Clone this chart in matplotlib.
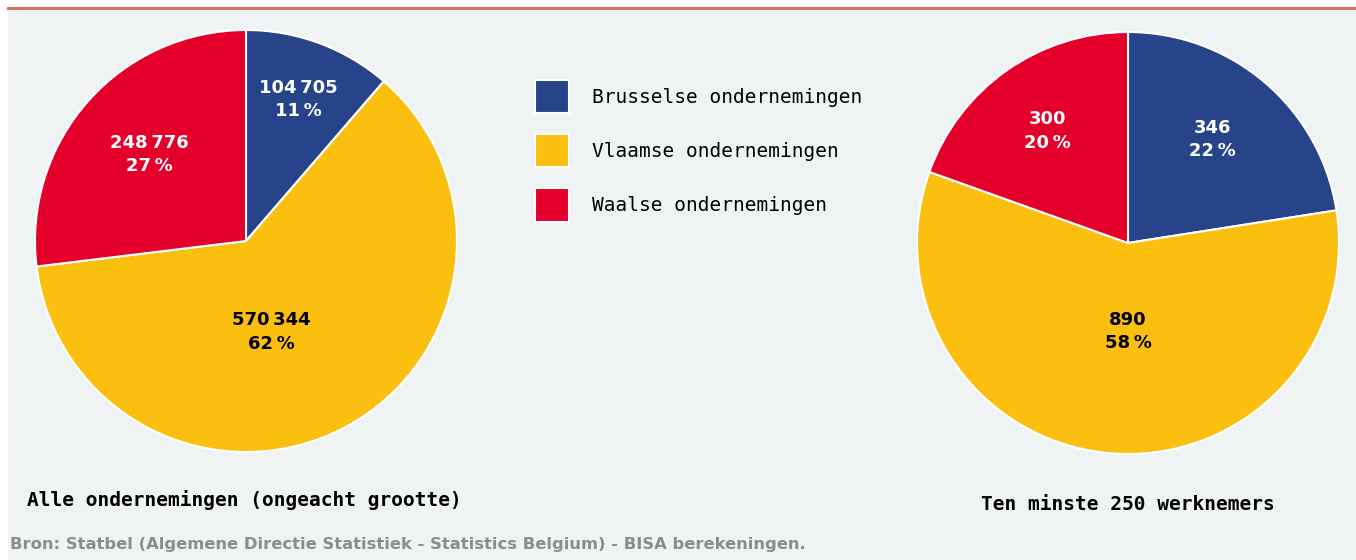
import matplotlib.pyplot as plt
from matplotlib.patches import Patch, Rectangle

regions = ['Brusselse ondernemingen', 'Vlaamse ondernemingen', 'Waalse ondernemingen']
colors = ['#27438a', '#fbbf10', '#e4002b']

all_counts = [104705, 570344, 248776]
all_labels = ['104\u2009705', '570\u2009344', '248\u2009776']
all_pcts = [11, 62, 27]
big_counts = [346, 890, 300]
big_labels = ['346', '890', '300']
big_pcts = [22, 58, 20]

# label spots inside each pie (pie data units, radius = 1)
all_pos = [(0.25, 0.67), (0.12, -0.43), (-0.46, 0.41)]
big_pos = [(0.40, 0.49), (0.0, -0.42), (-0.38, 0.53)]
txt_colors = ['white', 'black', 'white']

W, H = 1356, 560
fig = plt.figure(figsize=(W / 100, H / 100), dpi=100)
fig.patch.set_facecolor('white')
fig.patches.append(Rectangle((8 / W, 0), 1, 1 - 9 / H, transform=fig.transFigure,
                             facecolor='#f0f3f4', edgecolor='none', zorder=-10))
fig.add_artist(plt.Line2D([8 / W, 1], [1 - 7.5 / H, 1 - 7.5 / H], color='#d9735a', lw=2.2))


def draw_pie(cx, cy, r, counts, labels, pcts, pos):
    ax = fig.add_axes([(cx - r) / W, 1 - (cy + r) / H, 2 * r / W, 2 * r / H])
    ax.pie(counts, colors=colors, startangle=90, counterclock=False,
           wedgeprops=dict(edgecolor='white', linewidth=1.5))
    for lab, pct, (x, y), tc in zip(labels, pcts, pos, txt_colors):
        ax.text(x, y, f'{lab}\n{pct}\u2009%', ha='center', va='center', color=tc,
                fontsize=13, fontweight='bold', linespacing=1.4, family='DejaVu Sans')
    ax.set_xlim(-1, 1)
    ax.set_ylim(-1, 1)
    ax.set_aspect('equal')
    ax.axis('off')
    return ax


draw_pie(246, 241, 211, all_counts, all_labels, all_pcts, all_pos)
draw_pie(1128, 243, 211, big_counts, big_labels, big_pcts, big_pos)

handles = [Patch(facecolor=c, edgecolor='white', linewidth=1.5) for c in colors]
fig.legend(handles, regions, loc='upper left', bbox_to_anchor=(535 / W, 1 - 80 / H),
           frameon=False, borderpad=0, borderaxespad=0, handlelength=1.75, handleheight=2.25,
           labelspacing=1.08, handletextpad=1.18,
           prop=dict(family='DejaVu Sans Mono', size=14))

fig.text(27 / W, 1 - 500 / H, 'Alle ondernemingen (ongeacht grootte)', ha='left', va='center',
         family='DejaVu Sans Mono', fontweight='bold', fontsize=14)
fig.text(1128 / W, 1 - 505 / H, 'Ten minste 250 werknemers', ha='center', va='center',
         family='DejaVu Sans Mono', fontweight='bold', fontsize=14)
fig.text(10 / W, 1 - 545 / H,
         'Bron: Statbel (Algemene Directie Statistiek - Statistics Belgium) - BISA berekeningen.',
         ha='left', va='center', color='#8c8c8c', fontweight='bold', fontsize=11.8,
         family='DejaVu Sans')

fig.savefig('out.png', dpi=100, facecolor=fig.get_facecolor())
